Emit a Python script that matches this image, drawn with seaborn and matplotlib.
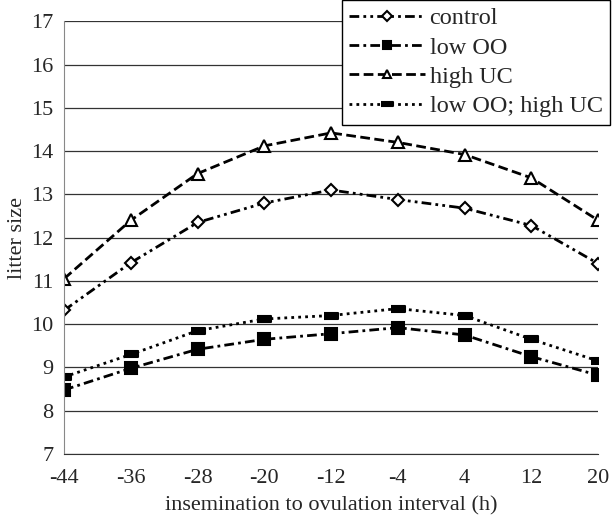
import numpy as np
import pandas as pd
import matplotlib
matplotlib.use('Agg')
import matplotlib.pyplot as plt
import seaborn as sns

# data
interval = [-44, -36, -28, -20, -12, -4, 4, 12, 20]
control = [10.32, 11.42, 12.35, 12.8, 13.1, 12.88, 12.68, 12.28, 11.4]
low_oo = [8.48, 8.98, 9.42, 9.65, 9.78, 9.92, 9.75, 9.25, 8.82]
high_uc = [11.05, 12.4, 13.48, 14.12, 14.42, 14.2, 13.92, 13.38, 12.4]
low_oo_high_uc = [8.78, 9.3, 9.85, 10.12, 10.2, 10.36, 10.2, 9.65, 9.15]

names = ['control', 'low OO', 'high UC', 'low OO; high UC']
yticks = list(range(7, 18))

df = pd.DataFrame({'interval': interval, 'control': control, 'low OO': low_oo,
                   'high UC': high_uc, 'low OO; high UC': low_oo_high_uc})
long = df.melt(id_vars='interval', var_name='group', value_name='litter size')

sns.set_style('white')
plt.rcParams['font.family'] = ['Liberation Serif', 'DejaVu Serif']
plt.rcParams['axes.unicode_minus'] = False

fig = plt.figure(figsize=(6.16, 5.31), dpi=100)
ax = fig.add_axes([0.104, 0.145, 0.867, 0.815])

bar = [(-1, -0.4), (1, -0.4), (1, 0.4), (-1, 0.4)]
styles = {
    'control': dict(marker='D', ms=6, mfc='white', dashes=(3.5, 1.5, 1, 1.5, 1, 1.5)),
    'low OO': dict(marker='s', ms=8, mfc='black', dashes=(3.5, 1.5, 1, 1.5)),
    'high UC': dict(marker='^', ms=8, mfc='white', dashes=(3.5, 1.6)),
    'low OO; high UC': dict(marker=bar, ms=10, mfc='black', dashes=(1, 1.5)),
}

for name in names:
    st = styles[name]
    sns.lineplot(data=long[long['group'] == name], x='interval', y='litter size',
                 ax=ax, color='black', lw=2, marker=st['marker'], ms=st['ms'],
                 mfc=st['mfc'], mec='black', mew=1.5, dashes=st['dashes'],
                 label=name)

ax.set_xlim(-44, 20)
ax.set_ylim(7, 17)
ax.set_xticks(interval)
ax.set_yticks(yticks)
ax.yaxis.grid(True, color='#333333', lw=0.9)
for s in ['top', 'right']:
    ax.spines[s].set_visible(False)
ax.spines['bottom'].set_color('#333333')
ax.spines['left'].set_color('#888888')
ax.tick_params(axis='both', labelsize=16, length=4, color='#555555', direction='out')
ax.tick_params(axis='x', pad=7)
ax.set_xlabel('insemination to ovulation interval (h)', fontsize=16, labelpad=6)
ax.set_ylabel('litter size', fontsize=16, labelpad=3)

ax.legend(loc='upper right', bbox_to_anchor=(0.99, 1.0), bbox_transform=fig.transFigure,
          fontsize=17.5, frameon=True, fancybox=False, edgecolor='black', framealpha=1,
          handlelength=3.1, borderpad=0.3, labelspacing=0.3, handletextpad=0.2,
          borderaxespad=0, markerscale=0.8)

fig.savefig('out.png', dpi=100)
